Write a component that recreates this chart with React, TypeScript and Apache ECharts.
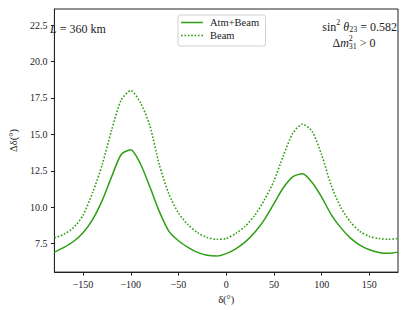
import React, { useEffect, useRef } from "react";
import * as echarts from "echarts";

const deltaDeg = [-180, -170, -160, -150, -140, -130, -120, -110, -100, -90, -80, -70, -60, -50, -40, -30, -20, -10, 0, 10, 20, 30, 40, 50, 60, 70, 80, 90, 100, 110, 120, 130, 140, 150, 160, 170, 180];
const atmBeam = [6.92, 7.25, 7.65, 8.25, 9.15, 10.45, 12.1, 13.62, 13.95, 13.0, 11.4, 9.7, 8.35, 7.7, 7.25, 6.9, 6.7, 6.65, 6.82, 7.15, 7.62, 8.28, 9.15, 10.25, 11.35, 12.1, 12.3, 11.7, 10.7, 9.5, 8.6, 7.9, 7.4, 7.08, 6.9, 6.84, 6.92];
const beam = [7.9, 8.15, 8.6, 9.45, 11.0, 12.9, 15.3, 17.35, 18.0, 17.2, 15.6, 12.9, 10.9, 9.6, 8.8, 8.25, 7.93, 7.8, 7.86, 8.2, 8.7, 9.45, 10.5, 11.8, 13.55, 15.1, 15.7, 15.2, 13.6, 11.5, 10.0, 9.0, 8.35, 8.0, 7.85, 7.8, 7.86];
const xTicks = [-150, -100, -50, 0, 50, 100, 150];
const yTicks = [7.5, 10.0, 12.5, 15.0, 17.5, 20.0, 22.5];
const seriesNames = ["Atm+Beam", "Beam"];

const GREEN = "#2e9e12";
const SERIF = "'Liberation Serif', 'DejaVu Serif', serif";

type Piece = { t: string; size: number; italic?: boolean; dy: number; stackWithNext?: boolean };

export default function App() {
  const ref = useRef<HTMLDivElement>(null);
  useEffect(() => {
    if (!ref.current) return;
    const chart = echarts.init(ref.current, null, { renderer: "svg" });
    const toPairs = (ys: number[]) => deltaDeg.map((x, i) => [x, ys[i]]);
    const minus = (v: number) => String(v).replace("-", "\u2212");

    const canvas = document.createElement("canvas");
    const ctx = canvas.getContext("2d")!;
    const fontOf = (p: Piece) => `${p.italic ? "italic " : ""}${p.size}px ${SERIF}`;
    const measure = (p: Piece) => {
      ctx.font = fontOf(p);
      return ctx.measureText(p.t).width;
    };
    const layout = (pieces: Piece[], anchorX: number, y: number, align: "right" | "center") => {
      const xs: number[] = [];
      let cur = 0;
      for (let i = 0; i < pieces.length; i++) {
        const p = pieces[i];
        xs.push(cur);
        if (p.stackWithNext) {
          const w = Math.max(measure(p), measure(pieces[i + 1]));
          xs.push(cur);
          cur += w;
          i++;
        } else {
          cur += measure(p);
        }
      }
      const start = align === "right" ? anchorX - cur : anchorX - cur / 2;
      return pieces.map((p, i) => ({
        type: "text",
        x: start + xs[i],
        y: y + p.dy,
        style: { text: p.t, font: fontOf(p), fill: "#222", verticalAlign: "middle", align: "left" },
      }));
    };

    const line1: Piece[] = [
      { t: "sin", size: 12, dy: 0 },
      { t: "2", size: 8, dy: -4.5 },
      { t: " ", size: 12, dy: 0 },
      { t: "\u03b8", size: 12, italic: true, dy: 0 },
      { t: "23", size: 8, dy: 3 },
      { t: " = 0.582", size: 12, dy: 0 },
    ];
    const line2: Piece[] = [
      { t: "\u0394", size: 12, dy: 0 },
      { t: "m", size: 12, italic: true, dy: 0 },
      { t: "2", size: 8, dy: -4.5, stackWithNext: true },
      { t: "31", size: 8, dy: 3.5 },
      { t: " > 0", size: 12, dy: 0 },
    ];

    chart.setOption({
      animation: false,
      grid: { left: 45, right: 11, top: 9, bottom: 37, show: true, borderColor: "#222", borderWidth: 1, backgroundColor: "transparent" },
      xAxis: {
        type: "value",
        min: -180,
        max: 180,
        name: "\u03b4(\u00b0)",
        nameLocation: "middle",
        nameGap: 18,
        nameTextStyle: { fontFamily: SERIF, fontSize: 10.5, color: "#222" },
        axisLine: { show: true, onZero: false, lineStyle: { color: "#222", width: 1 } },
        axisTick: { show: true, length: 3.5, lineStyle: { color: "#222" }, customValues: xTicks },
        axisLabel: { customValues: xTicks, fontFamily: SERIF, fontSize: 10, color: "#222", margin: 7, formatter: (v: number) => minus(v) },
        splitLine: { show: false },
      },
      yAxis: {
        type: "value",
        min: 5.55,
        max: 23.6,
        name: "\u0394\u03b4(\u00b0)",
        nameLocation: "middle",
        nameGap: 33,
        nameRotate: 90,
        nameTextStyle: { fontFamily: SERIF, fontSize: 10.5, color: "#222", verticalAlign: "middle", align: "center" },
        axisLine: { show: true, onZero: false, lineStyle: { color: "#222", width: 1 } },
        axisTick: { show: true, length: 3.5, lineStyle: { color: "#222" }, customValues: yTicks },
        axisLabel: { customValues: yTicks, fontFamily: SERIF, fontSize: 10, color: "#222", margin: 7, formatter: (v: number) => v.toFixed(1) },
        splitLine: { show: false },
      },
      series: [
        {
          name: seriesNames[0],
          type: "line",
          data: toPairs(atmBeam),
          showSymbol: false,
          smooth: 0.25,
          lineStyle: { color: GREEN, width: 1.5 },
        },
        {
          name: seriesNames[1],
          type: "line",
          data: toPairs(beam),
          showSymbol: false,
          smooth: 0.25,
          lineStyle: { color: GREEN, width: 1.6, type: [1.6, 1.8], cap: "butt" },
        },
      ],
      graphic: [
        { type: "rect", shape: { x: 178, y: 15, width: 87.5, height: 31, r: 2 }, style: { fill: "rgba(255,255,255,0.8)", stroke: "#d0d0d0", lineWidth: 1 } },
        { type: "line", shape: { x1: 181, y1: 22.5, x2: 203, y2: 22.5 }, style: { stroke: GREEN, lineWidth: 1.5 } },
        { type: "line", shape: { x1: 181, y1: 35.5, x2: 203, y2: 35.5 }, style: { stroke: GREEN, lineWidth: 1.6, lineDash: [1.6, 1.8] } },
        { type: "text", x: 210, y: 22.5, style: { text: seriesNames[0], font: `10.5px ${SERIF}`, fill: "#222", verticalAlign: "middle" } },
        { type: "text", x: 210, y: 35.5, style: { text: seriesNames[1], font: `10.5px ${SERIF}`, fill: "#222", verticalAlign: "middle" } },
        {
          type: "text", x: 50, y: 28.5,
          style: {
            text: "{i|L} = 360 km", fill: "#222", verticalAlign: "middle", font: `12px ${SERIF}`,
            rich: { i: { fontStyle: "italic", fontFamily: SERIF, fontSize: 12 } },
          },
        },
        ...layout(line1, 397, 26.5, "right"),
        ...layout(line2, 354, 42.5, "center"),
      ],
    });
    return () => chart.dispose();
  }, []);
  return <div ref={ref} style={{ width: 409, height: 310, position: "absolute", left: 0, top: 0, background: "#fff" }} />;
}
